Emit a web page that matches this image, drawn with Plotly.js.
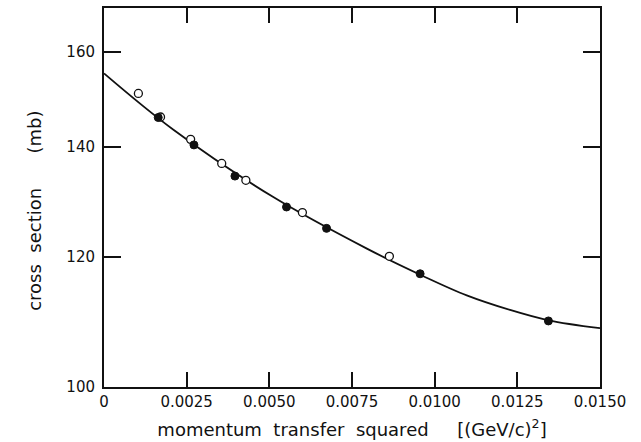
<!DOCTYPE html>
<html>
<head>
<meta charset="utf-8">
<script src="https://cdn.plot.ly/plotly-3.0.1.min.js"></script>
<style>html,body{margin:0;padding:0;background:#fff;}#chart{width:641px;height:442px;}</style>
</head>
<body>
<div id="chart"></div>
<script>
// Open circles
const openX = [0.00104, 0.00171, 0.00262, 0.00356, 0.00429, 0.0060, 0.00863];
const openY = [150.9, 146.0, 141.5, 136.8, 133.6, 127.7, 120.1];
// Filled circles
const filledX = [0.00164, 0.00272, 0.00396, 0.00552, 0.00673, 0.00956, 0.01344];
const filledY = [145.9, 140.4, 134.4, 128.7, 124.9, 117.2, 109.7];
// Fitted curve
const curveX = [0, 0.0021, 0.00512, 0.00795, 0.00966, 0.01097, 0.01228, 0.01344, 0.015];
const curveY = [155.2, 143.4, 130.5, 121.4, 116.8, 113.7, 111.4, 109.8, 108.6];
// Tick labels
const xTickVals = [0, 0.0025, 0.005, 0.0075, 0.01, 0.0125, 0.015];
const xTickText = ["0", "0.0025", "0.0050", "0.0075", "0.0100", "0.0125", "0.0150"];
const yTickVals = [100, 120, 140, 160];
const yTickText = ["100", "120", "140", "160"];

const font = {family: "DejaVu Sans, Liberation Sans, Arial, sans-serif", color: "#111"};
const sp = (n) => "\u00a0".repeat(n);

const traces = [
  {x: curveX, y: curveY, mode: "lines", type: "scatter",
   line: {color: "#111", width: 1.8, shape: "spline", smoothing: 1}, hoverinfo: "skip"},
  {x: openX, y: openY, mode: "markers", type: "scatter",
   marker: {symbol: "circle", size: 8, color: "#fff", line: {color: "#111", width: 1.3}}},
  {x: filledX, y: filledY, mode: "markers", type: "scatter",
   marker: {symbol: "circle", size: 8, color: "#111", line: {color: "#111", width: 1}}}
];

const layout = {
  width: 641, height: 442,
  margin: {l: 104, r: 41, t: 8, b: 55},
  paper_bgcolor: "#fff", plot_bgcolor: "#fff",
  showlegend: false,
  xaxis: {
    range: [0, 0.015], tickvals: xTickVals, ticktext: xTickText,
    ticks: "inside", ticklen: 15, tickwidth: 2, tickcolor: "#111",
    showline: true, linecolor: "#111", linewidth: 2, mirror: "ticks",
    showgrid: false, zeroline: false,
    tickfont: Object.assign({size: 15}, font),
    title: {text: "momentum" + sp(2) + "transfer" + sp(2) + "squared" + sp(5) + "[(GeV/c)<sup>2</sup>]",
            font: Object.assign({size: 18}, font), standoff: 13}
  },
  yaxis: {
    type: "log", range: [2, Math.log10(170.1)], tickvals: yTickVals, ticktext: yTickText,
    ticks: "inside", ticklen: 17, tickwidth: 2, tickcolor: "#111",
    showline: true, linecolor: "#111", linewidth: 2, mirror: "ticks",
    showgrid: false, zeroline: false, ticklabelstandoff: 4,
    tickfont: Object.assign({size: 15}, font)
  },
  annotations: [{
    text: "cross" + sp(2) + "section" + sp(6) + "(mb)",
    xref: "paper", yref: "paper", x: -0.139, y: 0.465,
    xanchor: "center", yanchor: "middle", textangle: -90, showarrow: false,
    font: Object.assign({size: 18}, font)
  }]
};

Plotly.newPlot("chart", traces, layout, {displayModeBar: false, staticPlot: true});
</script>
</body>
</html>
